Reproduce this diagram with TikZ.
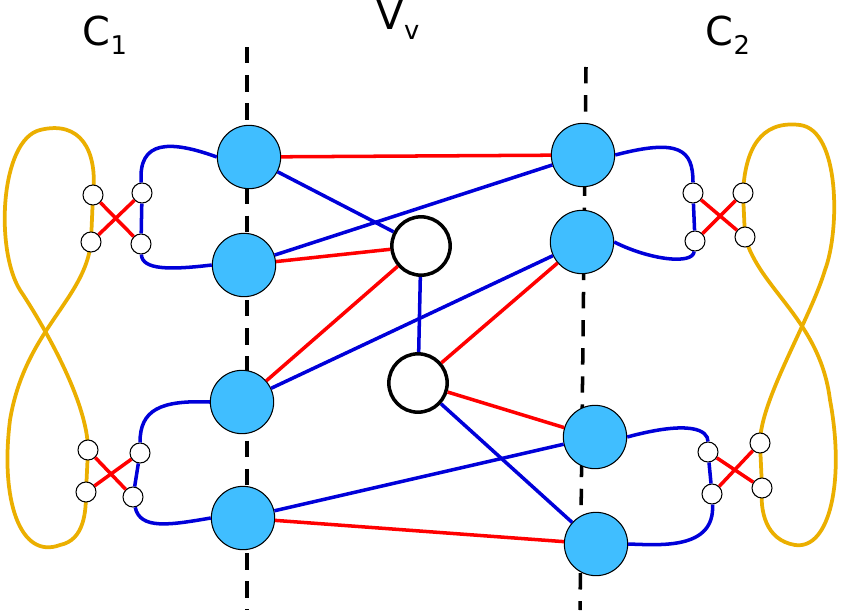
\documentclass[tikz,border=0pt]{standalone}
\usepackage{fontspec}
\setmainfont{DejaVu Sans}
\definecolor{nodeblue}{RGB}{64,190,255}
\definecolor{yel}{RGB}{235,175,0}
\newcommand{\subl}[1]{{\fontsize{22}{22}\selectfont\raisebox{-8pt}{#1}}}
\begin{document}
\begin{tikzpicture}[x=0.03cm,y=-0.03cm,
 big/.style={circle,draw=black,line width=0.9pt,fill=nodeblue,minimum size=1.9cm,inner sep=0pt},
 wbig/.style={circle,draw=black,line width=3pt,fill=white,minimum size=1.75cm,inner sep=0pt},
 sm/.style={circle,draw=black,line width=0.9pt,fill=white,minimum size=0.6cm,inner sep=0pt},
 re/.style={red,line width=3pt},
 bl/.style={blue!85!black,line width=3pt},
 ye/.style={draw=yel,line width=3.2pt},
 lab/.style={font=\fontsize{34}{34}\selectfont}]
\useasboundingbox (0,0) rectangle (843,613);
\draw[line width=3pt,dash pattern=on 14pt off 10pt] (247,47) -- (247,610);
\draw[line width=3pt,dash pattern=on 14pt off 10pt] (586,67) -- (580,610);
\node[lab] (c1) at (105,35) {C\subl{1}};
\node[lab] (vv) at (398,20) {V\subl{v}};
\node[lab] (c2) at (728,35) {C\subl{2}};
% yellow loops
\draw[ye] (93,195) .. controls (98,150) and (80,120) .. (40,130) .. controls (0,140) and (-5,250) .. (20,290) .. controls (40,320) and (88,400) .. (88,450);
\draw[ye] (91,242) .. controls (85,300) and (25,330) .. (10,420) .. controls (0,500) and (20,560) .. (60,545) .. controls (85,540) and (86,510) .. (86,492);
\draw[ye] (93,195) -- (91,242);
\draw[ye] (88,450) -- (86,492);
\draw[ye] (743,193) .. controls (745,150) and (760,120) .. (800,125) .. controls (840,130) and (840,230) .. (825,270) .. controls (810,320) and (760,400) .. (760,443);
\draw[ye] (745,237) .. controls (760,290) and (820,320) .. (830,400) .. controls (845,480) and (830,550) .. (795,545) .. controls (765,540) and (760,510) .. (762,488);
\draw[ye] (743,193) -- (745,237);
\draw[ye] (760,443) -- (762,488);
% big nodes
\node[big] (a1) at (249,157) {};
\node[big] (a2) at (244,265) {};
\node[big] (a3) at (242,402) {};
\node[big] (a4) at (243,518) {};
\node[big] (b1) at (583,155) {};
\node[big] (b2) at (582,242) {};
\node[big] (b3) at (595,437) {};
\node[big] (b4) at (596,544) {};
\node[wbig] (w1) at (421,246) {};
\node[wbig] (w2) at (418,383) {};
% small nodes
\node[sm] (l1) at (93,195) {}; \node[sm] (l2) at (142,193) {};
\node[sm] (l3) at (91,242) {}; \node[sm] (l4) at (141,244) {};
\node[sm] (l5) at (88,450) {}; \node[sm] (l6) at (140,453) {};
\node[sm] (l7) at (86,492) {}; \node[sm] (l8) at (133,497) {};
\node[sm] (r1) at (693,193) {}; \node[sm] (r2) at (743,193) {};
\node[sm] (r3) at (695,241) {}; \node[sm] (r4) at (745,237) {};
\node[sm] (r5) at (708,452) {}; \node[sm] (r6) at (760,443) {};
\node[sm] (r7) at (712,494) {}; \node[sm] (r8) at (762,488) {};
% blue side curves
\draw[bl] (a1.west) .. controls (170,140) and (138,140) .. (l2) -- (l4) .. controls (142,270) and (170,270) .. (a2.west);
\draw[bl] (a3.west) .. controls (160,400) and (140,410) .. (l6) -- (l8) .. controls (140,530) and (170,525) .. (a4.west);
\draw[bl] (b1.east) .. controls (680,138) and (693,150) .. (r1) -- (r3) .. controls (693,265) and (650,260) .. (b2.east);
\draw[bl] (b3.east) .. controls (690,420) and (708,430) .. (r5) -- (r7) .. controls (715,550) and (660,545) .. (b4.east);
% red crosses
\draw[re] (l1) -- (l4); \draw[re] (l2) -- (l3);
\draw[re] (l5) -- (l8); \draw[re] (l6) -- (l7);
\draw[re] (r1) -- (r4); \draw[re] (r2) -- (r3);
\draw[re] (r5) -- (r8); \draw[re] (r6) -- (r7);
% middle edges
\draw[re] (a1) -- (b1);
\draw[bl] (a1) -- (w1);
\draw[bl] (a2) -- (b1);
\draw[re] (a2) -- (w1);
\draw[re] (a3) -- (w1);
\draw[bl] (a3) -- (b2);
\draw[bl] (w1) -- (w2);
\draw[re] (w2) -- (b2);
\draw[re] (w2) -- (b3);
\draw[bl] (w2) -- (b4);
\draw[bl] (a4) -- (b3);
\draw[re] (a4) -- (b4);
\end{tikzpicture}
\end{document}
